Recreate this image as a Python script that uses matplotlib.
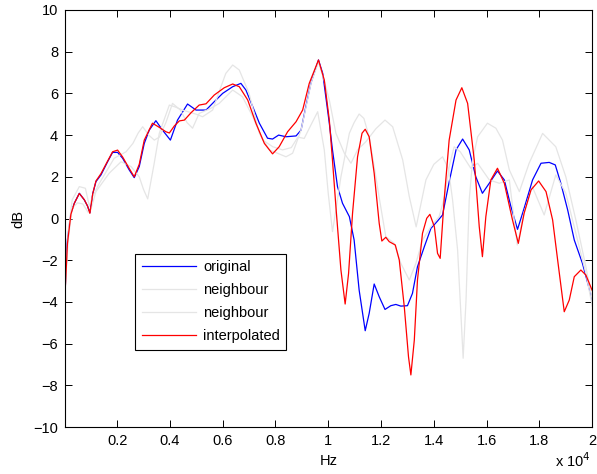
import matplotlib
matplotlib.use('Agg')
import matplotlib.pyplot as plt
import numpy as np

plt.rcParams['font.family'] = ['Liberation Sans', 'DejaVu Sans']

# frequencies in units of 1e4 Hz, levels in dB
f_orig = [0.002, 0.012, 0.025, 0.038, 0.057, 0.076, 0.088, 0.097, 0.108, 0.12, 0.139, 0.164,
          0.183, 0.202, 0.221, 0.246, 0.265, 0.284, 0.303, 0.322, 0.347, 0.372, 0.402, 0.429,
          0.467, 0.499, 0.537, 0.568, 0.6, 0.638, 0.669, 0.688, 0.714, 0.739, 0.77, 0.789,
          0.812, 0.84, 0.878, 0.897, 0.915, 0.934, 0.963, 0.979, 1.004, 1.016, 1.035, 1.054,
          1.08, 1.098, 1.117, 1.14, 1.155, 1.174, 1.193, 1.215, 1.237, 1.256, 1.275, 1.3,
          1.319, 1.338, 1.364, 1.389, 1.414, 1.433, 1.458, 1.484, 1.509, 1.534, 1.559, 1.584,
          1.61, 1.641, 1.667, 1.692, 1.717, 1.742, 1.774, 1.806, 1.837, 1.86, 1.881, 1.907,
          1.932, 1.963, 2.0]
db_orig = [-3.8, -1.0, 0.25, 0.73, 1.21, 0.89, 0.6, 0.28, 1.2, 1.77, 2.09, 2.72,
           3.17, 3.17, 2.89, 2.33, 1.96, 2.49, 3.6, 4.24, 4.69, 4.24, 3.76, 4.72,
           5.49, 5.2, 5.2, 5.6, 6.0, 6.32, 6.48, 6.16, 5.36, 4.57, 3.85, 3.81,
           4.0, 3.92, 3.96, 4.24, 5.36, 6.48, 7.6, 6.96, 4.57, 3.29, 1.53, 0.73,
           0.09, -1.03, -3.43, -5.38, -4.55, -3.14, -3.75, -4.36, -4.18, -4.12, -4.2, -4.18,
           -3.59, -2.31, -1.35, -0.47, -0.12, 0.17, 1.75, 3.29, 3.81, 3.29, 2.0, 1.21,
           1.69, 2.28, 1.85, 0.57, -0.52, 0.49, 1.85, 2.65, 2.69, 2.57, 1.69, 0.41,
           -1.03, -2.15, -3.9]

f_nb1 = [0.002, 0.015, 0.03, 0.05, 0.07, 0.09, 0.1, 0.12, 0.17, 0.215, 0.253, 0.284,
         0.3, 0.316, 0.34, 0.36, 0.398, 0.42, 0.448, 0.5, 0.524, 0.562, 0.59, 0.612,
         0.638, 0.663, 0.7, 0.739, 0.777, 0.84, 0.865, 0.897, 0.915, 0.935, 0.963, 0.985,
         1.004, 1.029, 1.061, 1.086, 1.111, 1.143, 1.18, 1.215, 1.244, 1.282, 1.307, 1.333,
         1.37, 1.4, 1.433, 1.455, 1.471, 1.49, 1.503, 1.511, 1.522, 1.534, 1.547, 1.566,
         1.603, 1.635, 1.66, 1.686, 1.724, 1.761, 1.812, 1.862, 1.9, 1.938, 1.976, 2.0]
db_nb1 = [-3.6, -1.0, 0.5, 0.75, 0.7, 0.3, 0.4, 1.29, 2.17, 2.72, 2.49, 2.0,
          1.4, 0.94, 2.6, 4.09, 5.44, 5.35, 5.2, 5.0, 4.88, 5.2, 6.2, 6.96,
          7.36, 7.12, 6.0, 4.09, 3.29, 2.96, 3.13, 4.24, 5.3, 6.5, 7.5, 6.6,
          5.68, 4.09, 3.13, 2.65, 3.29, 3.69, 4.3, 4.72, 4.4, 2.81, 1.05, -0.4,
          1.85, 2.6, 2.96, 2.4, 0.89, -1.51, -4.71, -6.7, -3.9, 0.89, 2.81, 3.92,
          4.57, 4.33, 3.76, 2.33, 1.29, 2.65, 4.08, 3.44, 2.0, -0.07, -2.31, -3.9]

f_nb2 = [0.002, 0.015, 0.03, 0.057, 0.08, 0.095, 0.107, 0.133, 0.189, 0.234, 0.26, 0.28,
         0.297, 0.32, 0.341, 0.36, 0.385, 0.41, 0.44, 0.465, 0.486, 0.511, 0.55, 0.587,
         0.638, 0.675, 0.714, 0.752, 0.79, 0.827, 0.86, 0.885, 0.909, 0.935, 0.96, 0.985,
         1.0, 1.016, 1.03, 1.048, 1.08, 1.098, 1.117, 1.135, 1.155, 1.174, 1.193, 1.218,
         1.25, 1.275, 1.307, 1.332, 1.357, 1.389, 1.42, 1.44, 1.46, 1.477, 1.5, 1.54,
         1.566, 1.61, 1.648, 1.686, 1.716, 1.742, 1.773, 1.818, 1.862, 1.9, 1.938, 1.976, 2.0]
db_nb2 = [-3.8, -0.6, 0.9, 1.53, 1.45, 0.6, 1.05, 1.69, 2.89, 3.2, 3.6, 4.1,
          4.4, 4.0, 3.76, 3.9, 4.6, 5.52, 5.2, 4.6, 4.33, 5.04, 5.25, 5.52,
          6.16, 5.84, 4.88, 3.76, 3.44, 3.29, 3.4, 3.9, 3.84, 4.5, 5.12, 3.29,
          1.2, -0.63, 0.5, 2.0, 4.09, 4.6, 5.01, 4.8, 3.92, 2.49, 1.0, -0.87,
          -1.19, -2.15, -2.95, -2.15, -1.03, -0.39, 0.09, 1.0, 2.6, 3.44, 3.2, 2.41,
          2.65, 1.85, 1.69, 1.85, -1.27, 0.3, 1.53, 0.17, 2.09, 1.21, -0.71, -2.63, -4.2]

f_interp = [0.002, 0.012, 0.025, 0.038, 0.057, 0.076, 0.088, 0.097, 0.108, 0.12, 0.139, 0.164,
            0.183, 0.202, 0.221, 0.246, 0.265, 0.284, 0.303, 0.334, 0.36, 0.385, 0.398, 0.417,
            0.436, 0.455, 0.48, 0.511, 0.537, 0.568, 0.606, 0.638, 0.663, 0.695, 0.726, 0.758,
            0.789, 0.814, 0.846, 0.878, 0.903, 0.928, 0.963, 0.985, 1.004, 1.016, 1.029, 1.048,
            1.064, 1.077, 1.092, 1.111, 1.128, 1.14, 1.155, 1.174, 1.193, 1.203, 1.218, 1.231,
            1.254, 1.269, 1.288, 1.304, 1.313, 1.326, 1.338, 1.357, 1.373, 1.385, 1.402, 1.414,
            1.424, 1.439, 1.458, 1.484, 1.506, 1.528, 1.553, 1.572, 1.584, 1.597, 1.616, 1.641,
            1.667, 1.698, 1.72, 1.742, 1.768, 1.797, 1.825, 1.85, 1.869, 1.894, 1.913, 1.932,
            1.957, 1.976, 2.0]
db_interp = [-3.8, -1.2, 0.2, 0.73, 1.2, 0.9, 0.6, 0.25, 1.2, 1.8, 2.15, 2.75,
             3.2, 3.28, 2.95, 2.4, 2.0, 2.6, 3.76, 4.57, 4.37, 4.16, 4.1, 4.44,
             4.68, 4.72, 5.07, 5.44, 5.5, 5.92, 6.27, 6.45, 6.32, 5.68, 4.57, 3.6,
             3.1, 3.44, 4.16, 4.64, 5.2, 6.48, 7.6, 6.64, 4.72, 2.8, 0.57, -2.47,
             -4.1, -2.63, 0.25, 2.96, 4.09, 4.28, 3.92, 2.17, -0.23, -1.08, -0.9, -1.11,
             -1.27, -1.99, -4.23, -6.63, -7.5, -5.83, -2.95, -0.71, 0.01, 0.2, -0.39, -1.67,
             -1.91, 0.89, 3.76, 5.68, 6.27, 5.52, 2.81, -0.39, -1.83, 0.09, 1.85, 2.41,
             1.69, -0.07, -1.19, 0.25, 1.37, 1.8, 1.29, -0.07, -1.99, -4.47, -3.91, -2.79,
             -2.47, -2.71, -3.45]

xticks = [0.2, 0.4, 0.6, 0.8, 1.0, 1.2, 1.4, 1.6, 1.8, 2.0]
xtick_labels = ['0.2', '0.4', '0.6', '0.8', '1', '1.2', '1.4', '1.6', '1.8', '2']
yticks = list(range(-10, 11, 2))

fig = plt.figure(figsize=(5.97, 4.74), dpi=100)
ax = fig.add_axes([0.109, 0.099, 0.883, 0.880])

gray = '#e5e5e5'
ax.plot(np.array(f_orig) * 1e4, db_orig, color='#0000ff', lw=0.9, label='original')
ax.plot(np.array(f_nb1) * 1e4, db_nb1, color=gray, lw=0.9, label='neighbour')
ax.plot(np.array(f_nb2) * 1e4, db_nb2, color=gray, lw=0.9, label='neighbour')
ax.plot(np.array(f_interp) * 1e4, db_interp, color='#ff0000', lw=0.9, label='interpolated')

ax.set_xlim(30, 20000)
ax.set_ylim(-10, 10)
ax.set_xticks(np.array(xticks) * 1e4)
ax.set_xticklabels(xtick_labels)
ax.set_yticks(yticks)
ax.set_yticklabels([str(v).replace('-', '\u2212') for v in yticks])
ax.tick_params(direction='in', length=5, width=0.7, top=True, right=True, labelsize=10.5, pad=5)
for s in ax.spines.values():
    s.set_linewidth(0.8)

ax.set_xlabel('Hz', fontsize=10.5, labelpad=4)
ax.set_ylabel('dB', fontsize=10.5, labelpad=6)
fig.text(0.93, 0.015, r'x 10$^{4}$', fontsize=10.5)

leg = ax.legend(loc='lower left', bbox_to_anchor=(0.133, 0.185), fontsize=10.5,
                frameon=True, fancybox=False, edgecolor='black', framealpha=1,
                handlelength=3.7, handletextpad=0.5, labelspacing=0.62, borderpad=0.45,
                borderaxespad=0)
leg.get_frame().set_linewidth(0.8)

fig.savefig('out.png', dpi=100)
